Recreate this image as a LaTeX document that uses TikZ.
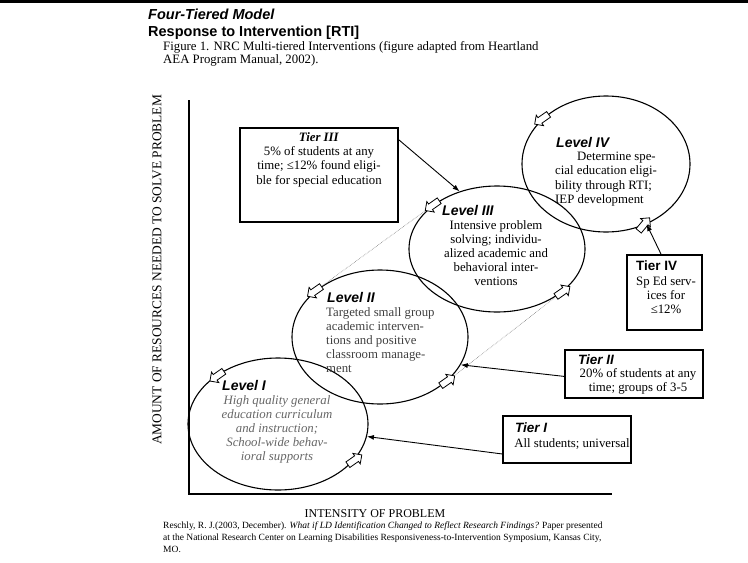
\documentclass[tikz,border=0pt]{standalone}
\usepackage{fontspec}
\setmainfont{Liberation Serif}
\setsansfont{Liberation Sans}
\usetikzlibrary{arrows.meta, shapes.geometric, shapes.arrows, positioning}

\begin{document}
\begin{tikzpicture}[
  x=1pt, y=-1pt,
  every node/.style={inner sep=0pt},
  level/.style={draw, ellipse, line width=1.1pt},
  tierbox/.style={draw, line width=1.1pt},
  arrow/.style={-{Latex[length=7pt, width=5pt]}, line width=0.9pt},
  hollow/.style={single arrow, draw, fill=white, line width=0.8pt, text width=5pt, text height=3pt, text depth=3pt, minimum height=17pt, single arrow head extend=3pt},
  link/.style={densely dotted, gray, line width=0.6pt},
  body/.style={font=\fontsize{12.8}{14.2}\selectfont, align=center},
  lvlname/.style={font=\sffamily\bfseries\itshape\fontsize{14}{16}\selectfont},
  tiername/.style={font=\sffamily\bfseries\itshape\fontsize{13.5}{16}\selectfont},
  title/.style={font=\sffamily\bfseries\fontsize{14.5}{17}\selectfont},
  axis/.style={line width=1.4pt}
]
\useasboundingbox (0,0) rectangle (748,563);

% HEADER
\draw[line width=2.5pt] (0,1.5) -- (748,1.5);
\node[title, font=\sffamily\bfseries\itshape\fontsize{14.5}{17}\selectfont, anchor=base west] (head1) at (148,19) {Four-Tiered Model};
\node[title, anchor=base west] (head2) at (148,36) {Response to Intervention [RTI]};
\node[body, align=left, anchor=base west] (caption) at (163,50) {Figure 1. NRC Multi-tiered Interventions (figure adapted from Heartland};
\node[body, align=left, anchor=base west] (caption2) at (163,63) {AEA Program Manual, 2002).};

% LEVELS
\node[level, minimum width=180pt, minimum height=132pt] (lvl1) at (278,424) {};
\node[level, minimum width=176pt, minimum height=134pt] (lvl2) at (380,337) {};
\node[level, minimum width=176pt, minimum height=126pt] (lvl3) at (497,249) {};
\node[level, minimum width=168pt, minimum height=136pt] (lvl4) at (606,164) {};

% AXES
\coordinate (origin) at (189,494);
\coordinate (ytop) at (189,100);
\coordinate (xend) at (612,494);
\draw[axis] (ytop) -- (origin) -- (xend);
\node[body, font=\fontsize{13.4}{15}\selectfont, rotate=90] (ylab) at (157,270) {AMOUNT OF RESOURCES NEEDED TO SOLVE PROBLEM};
\node[body, font=\fontsize{12}{14}\selectfont, anchor=base] (xlab) at (375,517) {INTENSITY OF PROBLEM};

% LEVEL TEXTS
\node[lvlname, anchor=base west] (l1name) at (222,390) {Level I};
\node[body, font=\itshape\fontsize{12.8}{14.2}\selectfont, text=black!60, anchor=north] (l1txt) at (277,395) {High quality general\\education curriculum\\and instruction;\\School-wide behav-\\ioral supports};
\node[lvlname, anchor=base west] (l2name) at (327,302) {Level II};
\node[body, align=left, text=black!75, anchor=north west] (l2txt) at (326,307) {Targeted small group\\academic interven-\\tions and positive\\classroom manage-\\ment};
\node[lvlname, anchor=base west] (l3name) at (442,215) {Level III};
\node[body, anchor=north] (l3txt) at (496,220) {Intensive problem\\solving; individu-\\alized academic and\\behavioral inter-\\ventions};
\node[lvlname, anchor=base west] (l4name) at (556,147) {Level IV};
\node[body, align=left, anchor=north west] (l4txt) at (555,152) {\hspace*{22pt}Determine spe-\\cial education eligi-\\bility through RTI;\\IEP development};

% LINKS
\node[hollow, rotate=215, xshift=-5pt, yshift=1pt] (h1a) at (lvl1.144) {};
\node[hollow, rotate=35] (h1b) at (lvl1.-26) {};
\node[hollow, rotate=215] (h2a) at (lvl2.144) {};
\node[hollow, rotate=35] (h2b) at (lvl2.-34) {};
\node[hollow, rotate=215] (h3a) at (lvl3.145) {};
\node[hollow, rotate=35] (h3b) at (lvl3.-34) {};
\node[hollow, rotate=215] (h4a) at (lvl4.144) {};
\node[hollow, rotate=50] (h4b) at (lvl4.-59) {};
\draw[link] (h2a) -- (h3a);
\draw[link] (h2b) -- (h3b);

% TIER III
\node[tierbox, minimum width=158pt, minimum height=94pt] (t3) at (319,175) {};
\node[body, below=5pt of t3.north] (t3txt) {\textbf{\textit{Tier III}}\\5\% of students at any\\time; ≤12\% found eligi-\\ble for special education};
\draw[arrow] (t3.24) -- (lvl3.123);

% TIER IV
\node[tierbox, minimum width=75pt, minimum height=75pt] (t4) at (664.5,292.5) {};
\node[tiername, font=\sffamily\bfseries\fontsize{13.5}{16}\selectfont, anchor=base west] (t4name) at (636,270) {Tier IV};
\node[body, anchor=north] (t4txt) at (666,276) {Sp Ed serv-\\ices for\\≤12\%};
\draw[arrow] (t4.95) -- (lvl4.-56);

% TIER II
\node[tierbox, minimum width=138pt, minimum height=48pt] (t2) at (634,374) {};
\node[tiername, anchor=base west] (t2name) at (578,364) {Tier II};
\node[body, anchor=north] (t2txt) at (638,368) {20\% of students at any\\time; groups of 3-5};
\draw[arrow] (t2.182) -- (lvl2.-19);

% TIER I
\node[tierbox, minimum width=128pt, minimum height=47pt] (t1) at (567,439.5) {};
\node[tiername, anchor=base west] (t1name) at (515,432) {Tier I};
\node[body, anchor=north] (t1txt) at (572,438) {All students; universal};
\draw[arrow] (t1.west|-0,454) -- (lvl1.-8);

% SOURCE
\node[body, font=\fontsize{9.5}{12}\selectfont, align=left, anchor=north west] (source) at (163,522) {Reschly, R. J.(2003, December). \textit{What if LD Identification Changed to Reflect Research Findings?} Paper presented\\at the National Research Center on Learning Disabilities Responsiveness-to-Intervention Symposium, Kansas City,\\MO.};

\end{tikzpicture}
\end{document}
